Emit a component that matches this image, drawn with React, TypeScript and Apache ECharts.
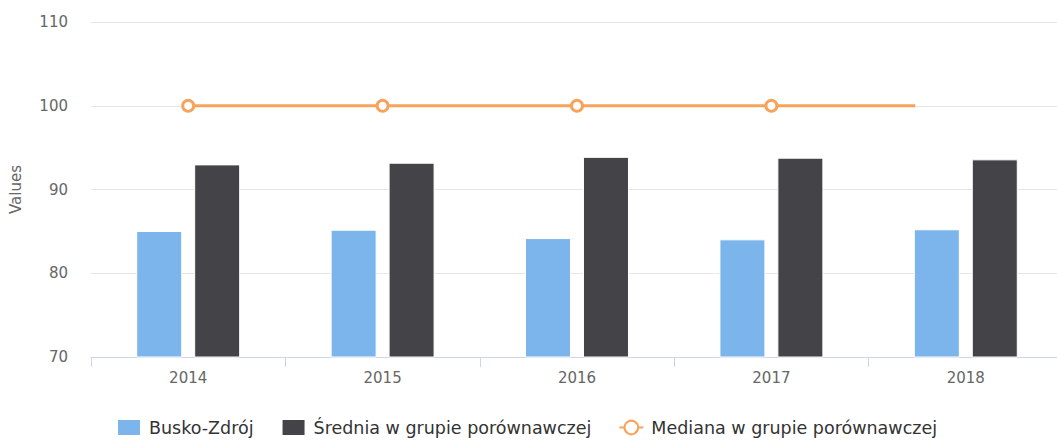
import React, { useEffect, useRef } from "react";
import * as echarts from "echarts";

const categories = ["2014", "2015", "2016", "2017", "2018"];
const busko = [85.05, 85.2, 84.2, 84.05, 85.25];
const srednia = [93.0, 93.2, 93.9, 93.8, 93.6];
const mediana = [100, 100, 100, 100];
const medianaEnd = 3.74; // category position where the median line stops
const yTicks = [70, 80, 90, 100, 110];

const FONT = "'DejaVu Sans', sans-serif";

export default function App() {
  const ref = useRef<HTMLDivElement>(null);
  useEffect(() => {
    const chart = echarts.init(ref.current!, null, { renderer: "svg" });
    const lineData: any[] = mediana.map((v, i) => [i, v]);
    lineData.push({ value: [medianaEnd, mediana[mediana.length - 1]], symbol: "none" });
    chart.setOption({
      animation: false,
      textStyle: { fontFamily: FONT },
      grid: { left: 90, right: 0, top: 22, bottom: 84 },
      legend: {
        bottom: -1,
        left: 111,
        itemWidth: 24,
        itemHeight: 17,
        itemGap: 27,
        textStyle: { fontSize: 17.5, color: "#333", fontFamily: FONT, padding: [0, 0, 0, 3] },
        data: [
          { name: "Busko-Zdrój", icon: "rect" },
          { name: "Średnia w grupie porównawczej", icon: "rect" },
          { name: "Mediana w grupie porównawczej" },
        ],
      },
      xAxis: [
        {
          type: "category",
          data: categories,
          axisLine: { lineStyle: { color: "#ccd6eb", width: 1 } },
          axisTick: { show: true, length: 10, lineStyle: { color: "#ccd6eb" } },
          axisLabel: { color: "#666", fontSize: 15, margin: 13, fontFamily: FONT },
        },
        {
          type: "value",
          min: -0.5,
          max: categories.length - 0.5,
          show: false,
          position: "bottom",
        },
      ],
      yAxis: {
        type: "value",
        min: yTicks[0],
        max: yTicks[yTicks.length - 1],
        interval: 10,
        name: "Values",
        nameLocation: "middle",
        nameGap: 68,
        nameTextStyle: { color: "#666", fontSize: 15, fontFamily: FONT },
        axisLine: { show: false },
        axisTick: { show: false },
        axisLabel: { color: "#666", fontSize: 15, margin: 23, fontFamily: FONT },
        splitLine: { lineStyle: { color: "#e6e6e6", width: 1 } },
      },
      series: [
        {
          name: "Busko-Zdrój",
          type: "bar",
          data: busko,
          barWidth: 46,
          barGap: "26%",
          itemStyle: { color: "#7cb5ec", borderColor: "#fff", borderWidth: 1 },
        },
        {
          name: "Średnia w grupie porównawczej",
          type: "bar",
          data: srednia,
          barWidth: 46,
          itemStyle: { color: "#434348", borderColor: "#fff", borderWidth: 1 },
        },
        {
          name: "Mediana w grupie porównawczej",
          type: "line",
          xAxisIndex: 1,
          data: lineData,
          symbol: "circle",
          symbolSize: 11,
          lineStyle: { color: "#f7a35c", width: 3 },
          itemStyle: { color: "#fff", borderColor: "#f7a35c", borderWidth: 3 },
          z: 5,
        },
      ],
    });
    return () => chart.dispose();
  }, []);
  return (
    <div
      style={{ position: "absolute", left: 0, top: 0, width: 1057, height: 441, overflow: "hidden" }}
    >
      <div ref={ref} style={{ width: 1063, height: 441 }} />
    </div>
  );
}
